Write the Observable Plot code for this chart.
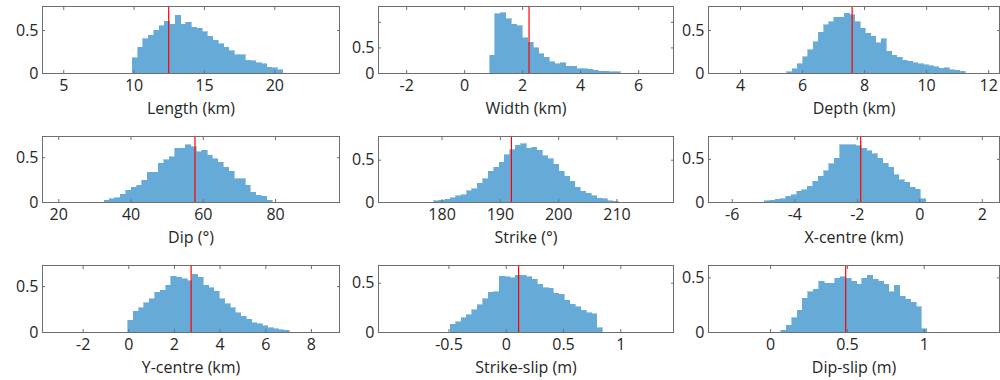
<!DOCTYPE html>
<html><head><meta charset="utf-8">
<script src="https://cdn.jsdelivr.net/npm/d3@7"></script>
<script src="https://cdn.jsdelivr.net/npm/@observablehq/plot@0.6"></script>
<style>
html,body{margin:0;padding:0;background:#fff;}
#chart{position:relative;width:1000px;height:380px;overflow:hidden;font-family:"Open Sans",sans-serif;}
#chart svg{position:absolute;}
</style></head><body><div id="chart"></div>
<script>
// ---------- DATA ----------
const labels = ["Length (km)", "Width (km)", "Depth (km)", "Dip (°)", "Strike (°)", "X-centre (km)", "Y-centre (km)", "Strike-slip (m)", "Dip-slip (m)"];
const binStarts = [9.9, 0.875, 5.51, 32.66, 178.7, -4.96, -0.02, -0.485, 0.07];
const binWidths = [0.382, 0.1876, 0.169, 1.501, 0.93, 0.1723, 0.2357, 0.04746, 0.0352];
const bestFit = [12.46, 2.22, 7.6, 57.7, 191.9, -1.89, 2.73, 0.108, 0.489];

const lengthH = [0.18,0.30,0.40,0.44,0.50,0.55,0.60,0.57,0.67,0.57,0.59,0.53,0.52,0.48,0.43,0.38,0.34,0.30,0.26,0.215,0.215,0.15,0.14,0.12,0.11,0.065,0.06,0.04];
const widthH = [0.35,1.16,1.18,1.06,0.95,0.92,0.69,0.60,0.49,0.38,0.31,0.22,0.18,0.20,0.13,0.13,0.08,0.08,0.07,0.05,0.03,0.03,0.02,0.02];
const depthH = [0.016,0.051,0.106,0.189,0.272,0.362,0.472,0.563,0.598,0.650,0.650,0.693,0.677,0.598,0.520,0.465,0.425,0.354,0.398,0.256,0.205,0.181,0.150,0.138,0.118,0.106,0.098,0.087,0.075,0.055,0.059,0.039,0.031,0.020];
const dipH = [0.022,0.037,0.048,0.089,0.133,0.163,0.185,0.241,0.330,0.330,0.430,0.474,0.507,0.600,0.600,0.637,0.615,0.563,0.578,0.522,0.485,0.444,0.389,0.341,0.259,0.259,0.189,0.111,0.074,0.063,0.022];
const strikeH = [0.012,0.020,0.031,0.051,0.071,0.083,0.134,0.157,0.224,0.276,0.362,0.413,0.472,0.559,0.618,0.669,0.689,0.638,0.646,0.610,0.547,0.512,0.449,0.362,0.303,0.244,0.173,0.126,0.106,0.075,0.047,0.039,0.016,0.008];
const xCentreH = [0.012,0.019,0.031,0.038,0.065,0.085,0.123,0.142,0.181,0.238,0.296,0.365,0.442,0.508,0.662,0.662,0.662,0.654,0.623,0.596,0.558,0.508,0.450,0.400,0.315,0.258,0.231,0.173,0.150,0.038];
const yCentreH = [0.128,0.226,0.266,0.318,0.365,0.431,0.456,0.511,0.609,0.595,0.580,0.558,0.631,0.595,0.511,0.482,0.445,0.365,0.310,0.266,0.212,0.172,0.139,0.102,0.091,0.066,0.047,0.036,0.026,0.018];
const strikeSlipH = [0.078,0.102,0.143,0.177,0.228,0.279,0.340,0.401,0.408,0.568,0.561,0.551,0.578,0.578,0.561,0.534,0.486,0.449,0.442,0.391,0.381,0.323,0.282,0.255,0.221,0.197,0.187,0.044];
const dipSlipH = [0.015,0.061,0.129,0.199,0.307,0.368,0.390,0.466,0.445,0.445,0.491,0.506,0.491,0.466,0.436,0.491,0.521,0.482,0.466,0.436,0.368,0.429,0.328,0.298,0.270,0.230,0.031];
const heights = [lengthH, widthH, depthH, dipH, strikeH, xCentreH, yCentreH, strikeSlipH, dipSlipH];

const xTicks = [[5,10,15,20],[-2,0,2,4,6],[4,6,8,10,12],[20,40,60,80],[180,190,200,210],[-6,-4,-2,0,2],[-2,0,2,4,6,8],[-0.5,0,0.5,1],[0,0.5,1]];
const yTickMarks = [[0,0.5],[0,0.5,1],[0,0.5],[0,0.5],[0,0.5],[0,0.5],[0,0.5],[0,0.5],[0,0.5]];
const yTickLabels = [0, 0.5];

// ---------- LAYOUT ----------
const xDomains = [[3.49,24.6],[-2.97,7.2],[2.97,12.35],[15.5,97.7],[169.1,219.7],[-6.76,2.55],[-3.78,9.23],[-1.115,1.46],[-0.404,1.49]];
const yMax = [0.78, 1.31, 0.78, 0.737, 0.78, 0.765, 0.73, 0.68, 0.613];
const cols = [[42,339],[378,673],[708,999]];
const rows = [[6,73],[136,202],[265,332]];
const barColor = "#66aad7";
const frameColor = "#6e6e6e";
const textColor = "#262626";
const mL = 40, mR = 4, mT = 4, mB = 48;

const container = document.getElementById("chart");
heights.forEach((hs, i) => {
  const [x0, x1] = cols[i % 3];
  const [y0, y1] = rows[Math.floor(i / 3)];
  const bins = hs.map((h, j) => ({x1: binStarts[i] + j * binWidths[i], x2: binStarts[i] + (j + 1) * binWidths[i], h}));
  const fmt = d => String(d);
  const chart = Plot.plot({
    width: x1 - x0 + mL + mR,
    height: y1 - y0 + mT + mB,
    marginLeft: mL, marginRight: mR, marginTop: mT, marginBottom: mB,
    x: {domain: xDomains[i], axis: null},
    y: {domain: [0, yMax[i]], axis: null},
    style: {fontFamily: '"Open Sans", sans-serif', fontSize: "16px", color: textColor, background: "transparent", overflow: "visible"},
    marks: [
      Plot.rectY(bins, {x1: "x1", x2: "x2", y: "h", fill: barColor, stroke: barColor, strokeWidth: 0.6, inset: 0, shapeRendering: "crispEdges"}),
      Plot.ruleX([bestFit[i]], {stroke: "#ff0000", strokeWidth: 1.2}),
      Plot.frame({stroke: frameColor}),
      Plot.axisX(xTicks[i], {anchor: "bottom", tickSize: 3, dy: -3, fill: "none", stroke: frameColor, label: null}),
      Plot.axisX(xTicks[i], {anchor: "top", tickSize: 3, dy: 3, fill: "none", stroke: frameColor, label: null}),
      Plot.axisY(yTickMarks[i], {anchor: "left", tickSize: 3, dx: 3, fill: "none", stroke: frameColor, label: null}),
      Plot.axisY(yTickMarks[i], {anchor: "right", tickSize: 3, dx: -3, fill: "none", stroke: frameColor, label: null}),
      Plot.axisX(xTicks[i], {anchor: "bottom", tickSize: 0, tickPadding: 6, tickFormat: fmt, label: null}),
      Plot.axisY(yTickLabels, {anchor: "left", tickSize: 0, tickPadding: 4, tickFormat: fmt, label: null}),
      Plot.text([labels[i]], {text: d => d, frameAnchor: "bottom", dy: 35, lineAnchor: "middle", fill: textColor})
    ]
  });
  chart.style.left = (x0 - mL) + "px";
  chart.style.top = (y0 - mT) + "px";
  container.append(chart);
});
</script>
</body></html>
